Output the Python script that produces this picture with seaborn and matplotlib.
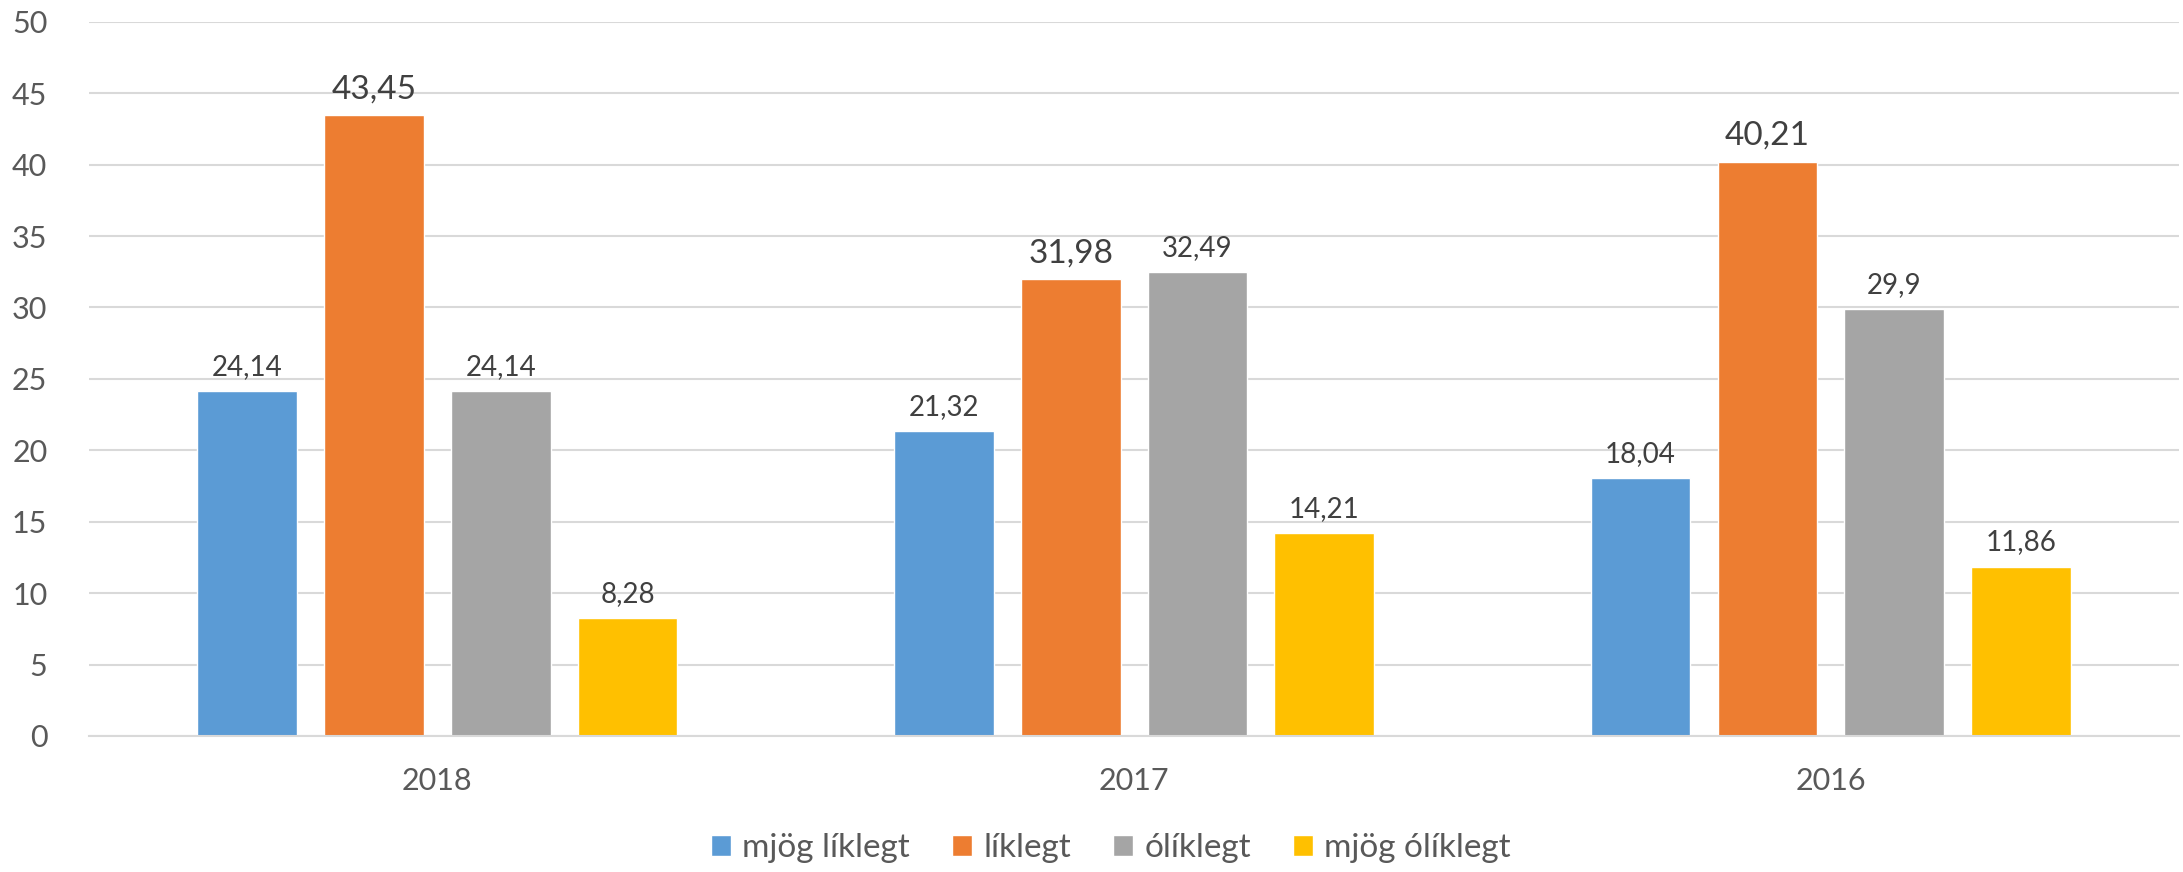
import pandas as pd
import numpy as np
import matplotlib.pyplot as plt
import seaborn as sns

years = ['2018', '2017', '2016']
series = ['mjög líklegt', 'líklegt', 'ólíklegt', 'mjög ólíklegt']
mjog_liklegt = [24.14, 21.32, 18.04]
liklegt = [43.45, 31.98, 40.21]
oliklegt = [24.14, 32.49, 29.9]
mjog_oliklegt = [8.28, 14.21, 11.86]
colors = ['#5B9BD5', '#ED7D31', '#A5A5A5', '#FFC000']

values = [mjog_liklegt, liklegt, oliklegt, mjog_oliklegt]
df = pd.DataFrame({
    'ar': np.tile(years, len(series)),
    'flokkur': np.repeat(series, len(years)),
    'gildi': np.concatenate(values),
})

sns.set_style('white')
plt.rcParams['font.family'] = ['Lato', 'DejaVu Sans']

fig = plt.figure(figsize=(21.83, 8.72), dpi=100)
ax = fig.add_axes([0.0408, 0.156, 0.9574, 0.819])

sns.barplot(data=df, x='ar', y='gildi', hue='flokkur', order=years,
            hue_order=series, palette=colors, width=0.728, gap=0.214,
            saturation=1, errorbar=None, ax=ax, legend=True)

# gildi ofan á súlum
for i, cont in enumerate(ax.containers):
    big = series[i] == 'líklegt'
    labels = [f'{v:g}'.replace('.', ',') for v in cont.datavalues]
    ax.bar_label(cont, labels=labels, padding=8,
                 fontsize=24 if big else 20, color='#404040')

ax.set_ylim(0, 50)
ax.set_xlim(-0.5, 2.5)
ax.set_yticks(range(0, 51, 5))
ax.yaxis.grid(True, color='#d9d9d9', linewidth=1.5)
ax.set_axisbelow(True)
for s in ['top', 'right', 'left']:
    ax.spines[s].set_visible(False)
ax.spines['bottom'].set_color('#d9d9d9')
ax.spines['bottom'].set_linewidth(1.5)
ax.tick_params(axis='both', length=0, labelsize=22, labelcolor='#595959')
ax.tick_params(axis='x', pad=22)
ax.tick_params(axis='y', pad=30)
ax.set_xlabel('')
ax.set_ylabel('')

ax.legend_.remove()
handles, labs = ax.get_legend_handles_labels()
fig.legend(handles, labs, loc='center', bbox_to_anchor=(0.509, 0.027),
           ncol=4, frameon=False, fontsize=24, labelcolor='#595959',
           handlelength=0.6, handleheight=0.6, handletextpad=0.33,
           columnspacing=1.27)

plt.savefig('out.png', dpi=100)
